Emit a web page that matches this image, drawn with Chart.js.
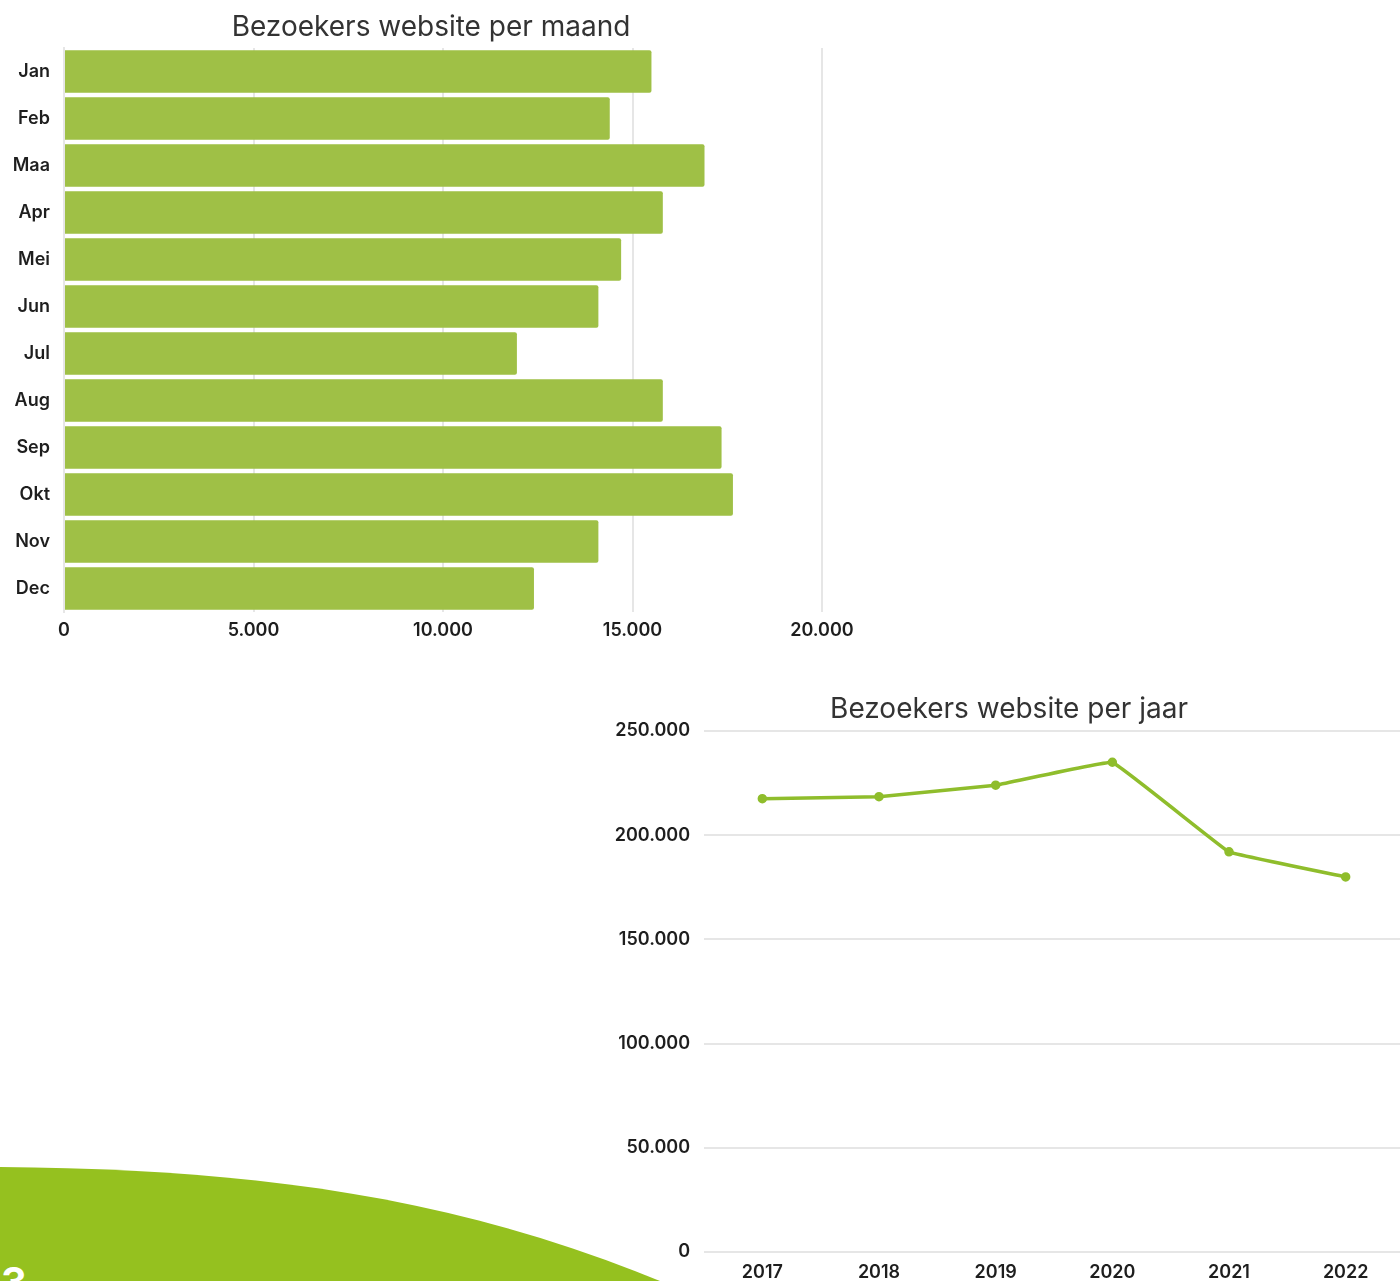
<!DOCTYPE html>
<html lang="nl">
<head>
    <meta charset="UTF-8">
    <title>Bezoekers website</title>
    <style>
        body {
            margin: 0;
            width: 1400px;
            height: 1281px;
            overflow: hidden;
            position: relative;
            background: #ffffff;
            font-family: Inter, Arial, sans-serif;
        }

        .clip {
            position: absolute;
            overflow: hidden;
        }

        #maandClip { left: 0; top: 0; width: 855px; height: 650px; }
        #maandBox { width: 862px; height: 650px; position: relative; }
        #jaarBox { position: absolute; left: 600px; top: 680px; width: 818px; height: 610px; }

        .blob {
            position: absolute;
            left: 0;
            top: 0;
            width: 1400px;
            height: 1281px;
            pointer-events: none;
        }

        .pagenr {
            position: absolute;
            left: 1px;
            top: 1262px;
            font: 700 40px Inter, sans-serif;
            color: #ffffff;
            line-height: 1;
        }
    </style>
</head>
<body>
    <svg class="blob" viewBox="0 0 1400 1281">
        <path d="M0 1167 C 250 1169 450 1195 660 1281 L 0 1281 Z" fill="#95c11f"/>
    </svg>
    <div class="pagenr">3</div>

    <div class="clip" id="maandClip">
        <div id="maandBox"><canvas id="maandChart"></canvas></div>
    </div>
    <div id="jaarBox"><canvas id="jaarChart"></canvas></div>

    <script src="https://cdn.jsdelivr.net/npm/chart.js"></script>
    <script>
        // visitors per month
        const maanden = ['Jan', 'Feb', 'Maa', 'Apr', 'Mei', 'Jun', 'Jul', 'Aug', 'Sep', 'Okt', 'Nov', 'Dec'];
        const bezoekersMaand = [15500, 14400, 16900, 15800, 14700, 14100, 11950, 15800, 17350, 17650, 14100, 12400];

        // visitors per year
        const jaren = ['2017', '2018', '2019', '2020', '2021', '2022'];
        const bezoekersJaar = [217500, 218500, 224000, 235000, 192000, 180000];

        const groen = '#9fc046';
        const lijnGroen = '#8fbd2c';
        const gridKleur = '#e6e6e6';

        // 5000 -> "5.000"
        const punten = v => String(v).replace(/\B(?=(\d{3})+(?!\d))/g, '.');

        const tickFont = { family: 'Inter, sans-serif', size: 18, weight: '600' };
        const titleFont = { family: 'Inter, sans-serif', size: 28, weight: '400' };

        Chart.defaults.color = '#1e1e1e';
        Chart.defaults.animation = false;

        new Chart(document.getElementById('maandChart'), {
            type: 'bar',
            data: {
                labels: maanden,
                datasets: [{
                    data: bezoekersMaand,
                    backgroundColor: groen,
                    borderRadius: 2,
                    barPercentage: 0.9,
                    categoryPercentage: 1
                }]
            },
            options: {
                responsive: true,
                maintainAspectRatio: false,
                indexAxis: 'y',
                plugins: {
                    legend: { display: false },
                    tooltip: { enabled: false },
                    title: {
                        display: true,
                        text: 'Bezoekers website per maand',
                        font: titleFont,
                        color: '#333',
                        padding: { top: 11, bottom: 3.4 }
                    }
                },
                scales: {
                    x: {
                        min: 0,
                        max: 20000,
                        ticks: { stepSize: 5000, font: tickFont, padding: 8, callback: v => punten(v) },
                        grid: { color: gridKleur, drawTicks: false, lineWidth: 2 },
                        border: { display: false },
                        afterFit: s => { s.height = 38; s.paddingRight = 40; }
                    },
                    y: {
                        ticks: { font: tickFont, padding: 14 },
                        grid: { display: false, drawTicks: false },
                        border: { color: gridKleur, width: 2 },
                        afterFit: s => { s.width = 64; }
                    }
                }
            }
        });

        new Chart(document.getElementById('jaarChart'), {
            type: 'line',
            data: {
                labels: jaren,
                datasets: [{
                    data: bezoekersJaar,
                    borderColor: lijnGroen,
                    backgroundColor: lijnGroen,
                    borderWidth: 3.5,
                    pointRadius: 3,
                    tension: 0.05
                }]
            },
            options: {
                responsive: true,
                maintainAspectRatio: false,
                plugins: {
                    legend: { display: false },
                    tooltip: { enabled: false },
                    title: {
                        display: true,
                        text: 'Bezoekers website per jaar',
                        font: titleFont,
                        color: '#333',
                        padding: { top: 13, bottom: 4.4 }
                    }
                },
                scales: {
                    x: {
                        offset: true,
                        ticks: { font: tickFont, padding: 10 },
                        grid: { display: false, drawTicks: false },
                        border: { display: false },
                        afterFit: s => { s.height = 38; s.paddingRight = 14; }
                    },
                    y: {
                        min: 0,
                        max: 250000,
                        ticks: { stepSize: 50000, font: tickFont, padding: 14, callback: v => punten(v) },
                        grid: { color: gridKleur, drawTicks: false, lineWidth: 2 },
                        border: { display: false },
                        afterFit: s => { s.width = 104; }
                    }
                }
            }
        });
    </script>
</body>
</html>
